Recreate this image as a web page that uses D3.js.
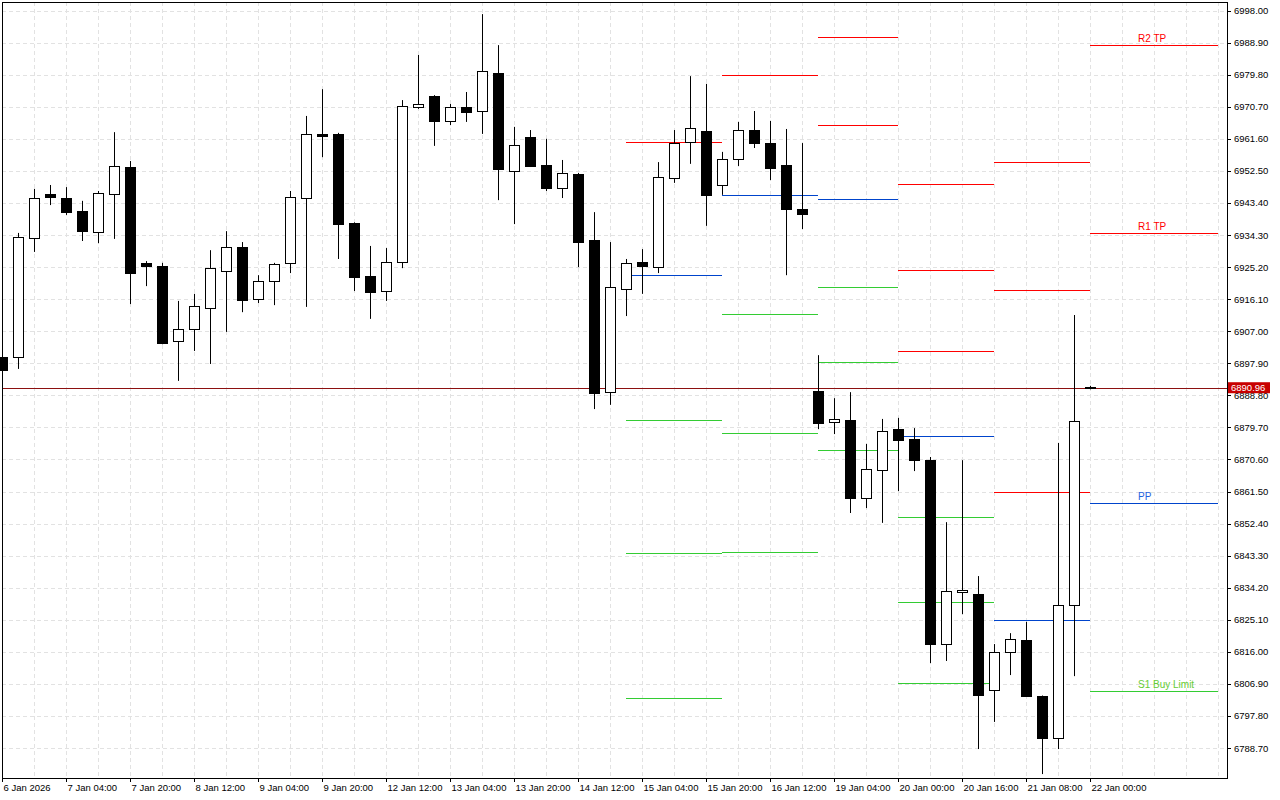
<!DOCTYPE html>
<html>
<head>
<meta charset="utf-8">
<script src="https://cdn.jsdelivr.net/npm/d3@7"></script>
<style>
  body { margin: 0; background: #fff; }
  text { font-family: "Liberation Sans", "DejaVu Sans", sans-serif; }
</style>
</head>
<body>
<svg id="chart" width="1280" height="800"></svg>
<script>
// 4-hour candles, index 0 is the first (partly cut) bar
const opens  = [6899.7,6899.7,6933.4,6945.9,6944.8,6941.1,6935.2,6945.9,6953.6,6926.4,6925.5,6904.2,6907.6,6913.6,6924.1,6930.9,6916.1,6921.2,6926.4,6944.8,6963.0,6963.0,6937.7,6922.7,6918.4,6926.6,6970.6,6973.8,6966.7,6970.6,6969.5,6980.3,6952.5,6962.1,6954.2,6947.7,6951.6,6932.9,6889.7,6919.0,6926.6,6925.2,6950.5,6960.7,6963.8,6948.5,6955.9,6964.1,6960.4,6954.2,6941.7,6890.0,6881.2,6881.8,6859.6,6867.6,6879.2,6876.4,6870.4,6818.2,6833.0,6832.4,6805.2,6815.9,6819.3,6803.5,6791.5,6829.3,6891.2];
const highs  = [6899.9,6934.9,6947.4,6948.5,6947.9,6944.0,6946.8,6963.5,6955.3,6926.9,6926.4,6915.6,6917.6,6930.0,6935.4,6932.3,6922.9,6926.4,6946.8,6968.1,6975.7,6963.3,6937.9,6931.2,6930.6,6972.6,6985.4,6974.0,6971.5,6974.9,6997.0,6988.2,6965.0,6964.1,6961.6,6955.6,6951.9,6940.8,6932.3,6927.5,6930.3,6955.0,6964.1,6979.4,6977.2,6957.9,6966.4,6969.5,6966.7,6964.4,6960.4,6900.2,6888.0,6889.7,6875.0,6882.1,6882.4,6879.5,6871.3,6852.8,6870.4,6837.5,6818.2,6821.3,6824.5,6803.6,6875.3,6911.6,6891.5];
const lows   = [6895.7,6896.3,6929.5,6942.8,6940.0,6932.6,6932.0,6933.2,6914.7,6919.8,6903.3,6892.9,6901.4,6897.7,6906.8,6912.4,6915.0,6914.4,6923.5,6913.9,6956.4,6927.5,6918.4,6910.5,6915.6,6924.9,6970.1,6959.6,6965.5,6966.4,6963.0,6944.2,6937.4,6953.6,6946.8,6944.8,6925.2,6884.9,6886.1,6911.3,6917.6,6923.5,6949.1,6954.5,6936.9,6945.7,6953.9,6959.0,6949.9,6922.9,6936.0,6879.2,6877.8,6855.4,6856.8,6852.6,6861.6,6867.3,6812.8,6813.4,6826.7,6788.4,6796.1,6809.4,6803.2,6781.3,6788.4,6809.1,6890.5];
const closes = [6896.0,6933.7,6944.8,6945.1,6940.8,6935.4,6946.2,6953.9,6923.5,6925.5,6903.6,6907.6,6914.1,6924.9,6930.9,6915.8,6921.2,6926.1,6945.1,6963.0,6962.4,6937.4,6922.4,6918.1,6926.6,6970.9,6971.5,6966.7,6970.6,6969.2,6980.9,6953.0,6959.9,6953.9,6947.7,6951.9,6932.3,6889.5,6919.6,6926.4,6925.5,6950.8,6960.4,6964.7,6945.7,6955.9,6964.1,6960.4,6953.3,6941.7,6940.3,6880.9,6882.1,6859.6,6867.9,6878.7,6876.1,6870.4,6818.2,6833.3,6833.5,6803.7,6815.9,6819.6,6803.5,6791.5,6829.3,6881.5,6890.96];

// daily pivot segments: [startIndex, endIndex]
const pivotSpans = [[39,45],[45,51],[51,56],[56,62],[62,68],[68,76]];
const pivotR  = [[6960.7],[6979.7],[6990.5,6965.5],[6948.8,6924.4,6901.4],[6955.0,6918.7,6861.4],[6988.2,6934.9]];
const pivotPP = [6922.9,6945.7,6944.5,6877.2,6825.0,6858.2];
const pivotS  = [[6881.8,6844.0,6802.9],[6911.9,6878.1,6844.3],[6919.5,6898.3,6873.3],[6854.3,6830.1,6807.1],[],[6804.9]];
const lastLabels = ["R2 TP","R1 TP","PP","S1 Buy Limit"];

const priceTicks = [6998.00,6988.90,6979.80,6970.70,6961.60,6952.50,6943.40,6934.30,6925.20,6916.10,6907.00,6897.90,6888.80,6879.70,6870.60,6861.50,6852.40,6843.30,6834.20,6825.10,6816.00,6806.90,6797.80,6788.70];
const timeLabels = ["6 Jan 2026","7 Jan 04:00","7 Jan 20:00","8 Jan 12:00","9 Jan 04:00","9 Jan 20:00","12 Jan 12:00","13 Jan 04:00","13 Jan 20:00","14 Jan 12:00","15 Jan 04:00","15 Jan 20:00","16 Jan 12:00","19 Jan 04:00","20 Jan 00:00","20 Jan 16:00","21 Jan 08:00","22 Jan 00:00"];
const currentPrice = 6890.96;

const svg = d3.select("#chart");
const plotL = 2, plotR = 1227, plotT = 2, plotB = 778;

const x = d3.scaleLinear().domain([0, 1]).range([2, 18]);
const y = d3.scaleLinear().domain([6998, 6788.7]).range([10.6, 748]);
const px = v => Math.round(v) + 0.5;

// grid
const grid = svg.append("g").attr("stroke", "#e2e2e2").attr("stroke-dasharray", "4,3");
grid.selectAll("line.h").data(priceTicks).join("line").attr("class", "h")
  .attr("x1", plotL).attr("x2", plotR)
  .attr("y1", d => px(y(d))).attr("y2", d => px(y(d)));
grid.selectAll("line.v").data(d3.range(0, 77, 2)).join("line").attr("class", "v")
  .attr("x1", d => px(x(d))).attr("x2", d => px(x(d)))
  .attr("y1", plotT).attr("y2", plotB);

// pivot segments
const piv = svg.append("g");
function drawLevels(levels, color) {
  pivotSpans.forEach((s, k) => {
    const lv = Array.isArray(levels[k]) ? levels[k] : [levels[k]];
    lv.forEach(v => {
      piv.append("line")
        .attr("x1", x(s[0])).attr("x2", x(s[1]))
        .attr("y1", px(y(v))).attr("y2", px(y(v)))
        .attr("stroke", color).attr("stroke-width", 1);
    });
  });
}
drawLevels(pivotR, "#ff0000");
drawLevels(pivotPP, "#0044cc");
drawLevels(pivotS, "#33cc33");

// labels on last day's levels
const lastK = pivotSpans.length - 1;
const lastLevels = [
  {t: lastLabels[0], v: pivotR[lastK][0], c: "#ff0000"},
  {t: lastLabels[1], v: pivotR[lastK][1], c: "#ff0000"},
  {t: lastLabels[2], v: pivotPP[lastK], c: "#1f5fe0"},
  {t: lastLabels[3], v: pivotS[lastK][0], c: "#66cc33"}
];
svg.append("g").selectAll("text").data(lastLevels).join("text")
  .attr("x", x(71)).attr("y", d => y(d.v) - 3)
  .attr("font-size", 10).attr("fill", d => d.c)
  .text(d => d.t);

// current price line
svg.append("line").attr("x1", plotL).attr("x2", plotR)
  .attr("y1", px(y(currentPrice))).attr("y2", px(y(currentPrice)))
  .attr("stroke", "#8c1010");

// candles
const candles = opens.map((o, i) => ({i, o, h: highs[i], l: lows[i], c: closes[i]}));
const cg = svg.append("g").selectAll("g").data(candles).join("g");
cg.append("line")
  .attr("x1", d => px(x(d.i))).attr("x2", d => px(x(d.i)))
  .attr("y1", d => y(d.h)).attr("y2", d => y(d.l))
  .attr("stroke", "#000");
cg.append("rect")
  .attr("x", d => Math.round(x(d.i)) - 4.5)
  .attr("width", 10)
  .attr("y", d => Math.round(y(Math.max(d.o, d.c))) + 0.5)
  .attr("height", d => Math.max(1, Math.round(Math.abs(y(d.o) - y(d.c)))))
  .attr("fill", d => d.c >= d.o ? "#fff" : "#000")
  .attr("stroke", "#000");

// frame
svg.append("rect").attr("x", plotL + 0.5).attr("y", plotT + 0.5)
  .attr("width", plotR - plotL).attr("height", plotB - plotT)
  .attr("fill", "none").attr("stroke", "#000");

// right price axis
const yAxis = svg.append("g");
priceTicks.forEach(t => {
  yAxis.append("line").attr("x1", plotR).attr("x2", plotR + 4)
    .attr("y1", px(y(t))).attr("y2", px(y(t))).attr("stroke", "#000");
  yAxis.append("text").attr("x", plotR + 7).attr("y", y(t) + 3.5)
    .attr("font-size", 9.5).attr("fill", "#000").text(d3.format(".2f")(t));
});
const cy = y(currentPrice);
svg.append("rect").attr("x", plotR + 1).attr("y", cy - 5.5).attr("width", 42).attr("height", 11).attr("fill", "#c80000");
svg.append("text").attr("x", plotR + 4).attr("y", cy + 3.5).attr("font-size", 9.5).attr("fill", "#fff")
  .text(d3.format(".2f")(currentPrice));

// bottom time axis
const xAxis = svg.append("g");
timeLabels.forEach((t, k) => {
  const xi = px(x(k * 4));
  xAxis.append("line").attr("x1", xi).attr("x2", xi).attr("y1", plotB).attr("y2", plotB + 4).attr("stroke", "#000");
  xAxis.append("text").attr("x", xi + 1).attr("y", plotB + 13).attr("font-size", 9.5).attr("fill", "#000").text(t);
});
</script>
</body>
</html>
